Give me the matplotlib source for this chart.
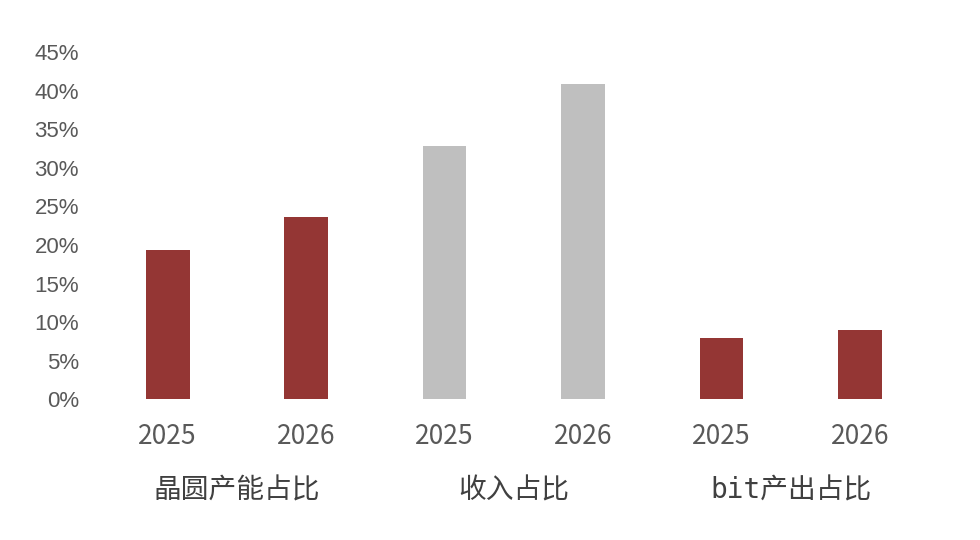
import matplotlib
matplotlib.use("Agg")
import matplotlib.pyplot as plt
from matplotlib.ticker import FuncFormatter

plt.rcParams['font.family'] = ['Noto Sans CJK SC', 'DejaVu Sans']

years = ["2025", "2026", "2025", "2026", "2025", "2026"]
values = [0.194, 0.236, 0.329, 0.409, 0.079, 0.090]
groups = ["晶圆产能占比", "收入占比", "bit产出占比"]
red = "#943634"
gray = "#BFBFBF"
colors = [red, red, gray, gray, red, red]
yticks = [0, 0.05, 0.10, 0.15, 0.20, 0.25, 0.30, 0.35, 0.40, 0.45]

fig = plt.figure(figsize=(9.8, 5.4), dpi=100)
ax = fig.add_axes([0.1005, 0.261, 0.8475, 0.642])
x = list(range(len(values)))
ax.bar(x, values, width=0.315, color=colors)
ax.set_xlim(-0.5, 5.5)
ax.set_ylim(0, 0.45)
ax.set_yticks(yticks)
ax.yaxis.set_major_formatter(FuncFormatter(lambda v, p: f"{v*100:.0f}%"))
for s in ax.spines.values():
    s.set_visible(False)
ax.tick_params(axis='y', length=0, labelsize=16, labelcolor="#595959", pad=14)
for lab in ax.get_yticklabels():
    lab.set_family(['Liberation Sans', 'DejaVu Sans'])
ax.set_xticks([])

for i, y in enumerate(years):
    ax.annotate(y, xy=(i, 0), xycoords=('data', 'axes fraction'),
                xytext=(0, -27), textcoords='offset points',
                ha='center', va='center', fontsize=19, color="#595959",
                family=['Noto Sans CJK SC'])
for g, name in enumerate(groups):
    ax.annotate(name, xy=(2 * g + 0.5, 0), xycoords=('data', 'axes fraction'),
                xytext=(0, -66), textcoords='offset points',
                ha='center', va='center', fontsize=20, color="#404040",
                family=['DejaVu Sans Mono', 'Noto Sans CJK SC'])

fig.savefig("out.png", dpi=100)
